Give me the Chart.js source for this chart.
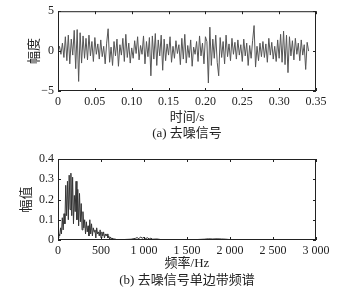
<!DOCTYPE html>
<html>
<head>
<meta charset="utf-8">
<script src="https://cdn.jsdelivr.net/npm/chart.js@4.4.1/dist/chart.umd.min.js"></script>
<style>
	body { margin: 0; background: #fff; }
	#wrap { position: relative; width: 357px; height: 291px; }
	canvas { position: absolute; left: 0; }
	.cap { position: absolute; left: 0; width: 374px; text-align: center; font: 13px "Liberation Serif", "Noto Sans CJK SC", serif; color: #222; line-height: 16px; }
</style>
</head>
<body>
<div id="wrap">
	<canvas id="signal-chart" width="357" height="145" style="top:0"></canvas>
	<div class="cap" style="top:125px">(a) 去噪信号</div>
	<canvas id="spectrum-chart" width="357" height="146" style="top:145px"></canvas>
	<div class="cap" style="top:272px">(b) 去噪信号单边带频谱</div>
</div>
<script>
// (a) denoised signal, one sample every 2 ms
const sampleStep = 0.002;
const signalValues = [
	0, 0.6, -0.4, 1.0, -0.8, 1.8, -1.2, 2.0, -1.6, 1.5,
	-0.5, 2.6, -2.2, 2.7, -3.8, 2.3, -1.5, 1.9, -0.9, 1.6,
	-1.1, 2.0, -0.6, 1.2, -1.3, 1.7, -0.4, 0.9, -1.0, 1.4,
	-0.7, 0.6, -1.6, 1.0, 2.8, -1.4, 0.5, -1.8, 1.2, -0.6,
	1.5, -1.9, 0.8, -0.5, 1.6, -1.3, 2.1, -0.8, 1.0, -1.5,
	0.4, -0.9, 1.3, -0.3, 1.8, -1.1, 0.7, -0.4, 1.9, -1.6,
	1.2, -0.7, 1.7, -3.1, 1.9, -1.0, 2.2, -1.8, 1.4, -0.6,
	2.0, -2.4, 1.5, -1.2, 0.9, -0.5, 1.8, -1.4, 0.6, -0.9,
	1.3, -0.3, 0.8, -1.7, 1.6, -1.0, 2.1, -1.5, 0.7, -0.8,
	1.4, -1.9, 0.5, -0.4, 1.2, -1.3, 1.9, -0.6, 1.0, -1.6,
	1.8, 1.2, -4.0, 3.0, -1.8, 1.5, -0.9, 2.0, -1.4, -3.1,
	1.7, -0.8, 1.2, -1.6, 2.0, -0.7, 0.9, -1.2, 1.6, -0.4,
	1.1, -1.0, 1.4, -0.5, 0.8, -1.3, 1.5, -0.6, 1.0, -1.8,
	0.7, -0.9, 1.3, 3.2, -2.0, 0.6, -1.2, 1.0, -0.7, 1.2,
	-0.8, 0.9, -1.4, 1.6, -0.5, 1.1, -1.0, 0.6, -1.3, 1.4,
	-0.9, 2.1, -1.4, 2.5, -1.7, 2.0, -2.7, 1.8, -0.6, 1.3,
	-1.1, 1.6, -0.4, 1.0, -1.2, 1.4, -0.5, 0.8, -2.3, 1.1,
	0
];
const timeTicks = [0, 0.05, 0.10, 0.15, 0.20, 0.25, 0.30, 0.35];
const amplitudeTicks = [-5, 0, 5];

// (b) single sided spectrum
const freqValues = [
	0, 10, 20, 30, 40, 50, 60, 70, 80, 90,
	100, 110, 120, 130, 140, 150, 160, 170, 180, 190,
	200, 210, 220, 230, 240, 250, 260, 270, 280, 290,
	300, 310, 320, 330, 340, 350, 360, 370, 380, 390,
	400, 410, 420, 430, 440, 450, 460, 470, 480, 490,
	500, 510, 520, 530, 540, 550, 560, 570, 580, 590,
	600, 610, 620, 630, 640, 650, 660, 670, 680, 690,
	700, 750, 800, 850, 900, 920, 940, 960, 980, 1000,
	1020, 1040, 1060, 1080, 1100, 1150, 1200, 1300, 1400, 1500,
	1600, 1700, 1750, 1800, 1850, 1900, 1950, 2000, 2100, 2200,
	2500, 3000
];
const spectrumValues = [
	0.01, 0.03, 0.02, 0.06, 0.03, 0.11, 0.05, 0.13, 0.08, 0.27,
	0.12, 0.29, 0.10, 0.32, 0.15, 0.33, 0.12, 0.31, 0.08, 0.22,
	0.14, 0.29, 0.10, 0.25, 0.07, 0.23, 0.09, 0.18, 0.05, 0.14,
	0.06, 0.10, 0.03, 0.09, 0.04, 0.07, 0.02, 0.10, 0.03, 0.08,
	0.02, 0.06, 0.04, 0.05, 0.01, 0.06, 0.03, 0.04, 0.02, 0.05,
	0.01, 0.04, 0.02, 0.04, 0.01, 0.03, 0.02, 0.03, 0.01, 0.02,
	0.005, 0.015, 0.005, 0.01, 0.003, 0.008, 0.002, 0.004, 0.001, 0.002,
	0.001, 0.002, 0.003, 0.004, 0.008, 0.012, 0.006, 0.015, 0.009, 0.013,
	0.007, 0.011, 0.005, 0.009, 0.004, 0.005, 0.002, 0.002, 0.001, 0.002,
	0.002, 0.004, 0.006, 0.005, 0.006, 0.005, 0.004, 0.002, 0.001, 0.001,
	0.001, 0
];
const freqTicks = [0, 500, 1000, 1500, 2000, 2500, 3000];
const magnitudeTicks = [0, 0.1, 0.2, 0.3, 0.4];

const textFont = { family: '"Liberation Serif", "Noto Sans CJK SC", serif', size: 12 };
const titleFont = { family: '"Liberation Serif", "Noto Sans CJK SC", serif', size: 13 };
const inkColor = '#222';

// matlab style box with inward ticks on all four sides
const frameTicks = {
	id: 'frameTicks',
	afterDraw(chart) {
		const { ctx, chartArea: a, scales: { x, y } } = chart;
		ctx.save();
		ctx.strokeStyle = inkColor;
		ctx.lineWidth = 1;
		ctx.strokeRect(a.left + 0.5, a.top + 0.5, a.right - a.left - 1, a.bottom - a.top - 1);
		ctx.beginPath();
		x.ticks.forEach(t => {
			const px = Math.round(x.getPixelForValue(t.value)) + 0.5;
			ctx.moveTo(px, a.bottom); ctx.lineTo(px, a.bottom - 3);
			ctx.moveTo(px, a.top); ctx.lineTo(px, a.top + 3);
		});
		y.ticks.forEach(t => {
			const py = Math.round(y.getPixelForValue(t.value)) + 0.5;
			ctx.moveTo(a.left, py); ctx.lineTo(a.left + 3, py);
			ctx.moveTo(a.right, py); ctx.lineTo(a.right - 3, py);
		});
		ctx.stroke();
		ctx.restore();
	}
};

function thousands(v) {
	const s = String(v);
	return s.length > 3 ? s.slice(0, -3) + ' ' + s.slice(-3) : s;
}

function makeChart(id, points, color, xs, ys, cfg) {
	return new Chart(document.getElementById(id), {
		type: 'line',
		data: {
			datasets: [{
				data: points,
				borderColor: color,
				borderWidth: 1,
				pointRadius: 0,
				tension: 0,
			}]
		},
		options: {
			responsive: false,
			animation: false,
			layout: { padding: cfg.padding },
			plugins: { legend: { display: false }, tooltip: { enabled: false } },
			scales: {
				x: {
					type: 'linear',
					min: xs.ticks[0],
					max: xs.ticks[xs.ticks.length - 1],
					afterBuildTicks: s => { s.ticks = xs.ticks.map(v => ({ value: v })); },
					afterFit: s => { s.height = cfg.xHeight; },
					grid: { display: false, drawTicks: false },
					border: { display: false },
					ticks: { font: textFont, color: inkColor, padding: 4, maxRotation: 0, autoSkip: false, callback: xs.format },
					title: { display: true, text: xs.title, font: titleFont, color: inkColor, padding: 0 }
				},
				y: {
					type: 'linear',
					min: ys.ticks[0],
					max: ys.ticks[ys.ticks.length - 1],
					afterBuildTicks: s => { s.ticks = ys.ticks.map(v => ({ value: v })); },
					afterFit: s => { s.width = 58; },
					grid: { display: false, drawTicks: false },
					border: { display: false },
					ticks: { font: textFont, color: inkColor, padding: 4, autoSkip: false, callback: ys.format },
					title: { display: true, text: ys.title, font: titleFont, color: inkColor, padding: { top: cfg.yTitlePad, bottom: 0 } }
				}
			}
		},
		plugins: [frameTicks]
	});
}

const signalPoints = signalValues.map((v, i) => ({ x: i * sampleStep, y: v }));
const spectrumPoints = spectrumValues.map((v, i) => ({ x: freqValues[i], y: v }));

makeChart('signal-chart', signalPoints, '#555', {
	ticks: timeTicks, title: '时间/s',
	format: v => v === 0 ? '0' : v.toFixed(2)
}, {
	ticks: amplitudeTicks, title: '幅度',
	format: v => v < 0 ? '\u2212' + Math.abs(v) : String(v)
}, { padding: { top: 10, right: 41, bottom: 20, left: 0 }, xHeight: 34, yTitlePad: 27 });

makeChart('spectrum-chart', spectrumPoints, '#333', {
	ticks: freqTicks, title: '频率/Hz',
	format: v => thousands(v)
}, {
	ticks: magnitudeTicks, title: '幅值',
	format: v => v === 0 ? '0' : v.toFixed(1)
}, { padding: { top: 14, right: 41, bottom: 20, left: 0 }, xHeight: 31, yTitlePad: 19 });
</script>
</body>
</html>
